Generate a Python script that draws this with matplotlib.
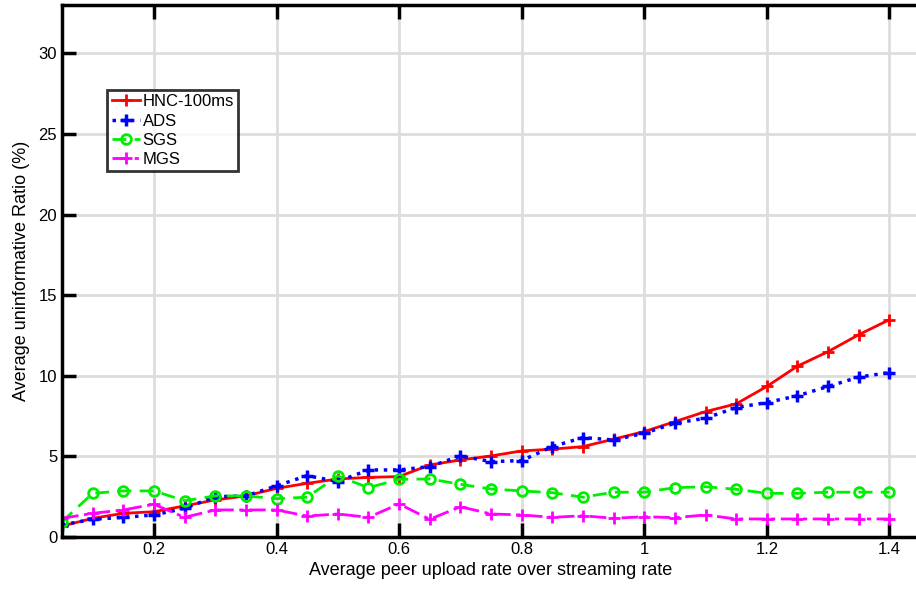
import matplotlib.pyplot as plt

plt.rcParams['font.family'] = ['Liberation Sans', 'DejaVu Sans']

rate = [0.05, 0.1, 0.15, 0.2, 0.25, 0.3, 0.35, 0.4, 0.45, 0.5,
        0.55, 0.6, 0.65, 0.7, 0.75, 0.8, 0.85, 0.9, 0.95, 1.0,
        1.05, 1.1, 1.15, 1.2, 1.25, 1.3, 1.35, 1.4]

hnc = [0.68, 1.16, 1.47, 1.57, 1.93, 2.3, 2.55, 3.02, 3.33, 3.6,
       3.7, 3.75, 4.47, 4.78, 5.03, 5.34, 5.45, 5.61, 6.07, 6.54,
       7.16, 7.78, 8.26, 9.34, 10.6, 11.5, 12.55, 13.48]
ads = [0.75, 1.1, 1.22, 1.37, 1.78, 2.5, 2.55, 3.17, 3.81, 3.44,
       4.16, 4.16, 4.37, 5.03, 4.68, 4.74, 5.61, 6.17, 6.02, 6.44,
       7.06, 7.37, 8.03, 8.34, 8.76, 9.34, 9.92, 10.2]
sgs = [0.95, 2.71, 2.86, 2.86, 2.25, 2.55, 2.55, 2.38, 2.47, 3.79,
       3.06, 3.58, 3.6, 3.27, 2.98, 2.86, 2.75, 2.47, 2.78, 2.78,
       3.06, 3.12, 2.96, 2.71, 2.71, 2.78, 2.78, 2.78]
mgs = [1.16, 1.47, 1.68, 2.03, 1.22, 1.68, 1.68, 1.68, 1.3, 1.43,
       1.22, 2.05, 1.1, 1.88, 1.43, 1.37, 1.22, 1.32, 1.16, 1.26,
       1.2, 1.37, 1.12, 1.12, 1.12, 1.12, 1.12, 1.12]

fig = plt.figure(figsize=(9.16, 5.9), dpi=100)
ax = fig.add_axes([0.0677, 0.0898, 0.9367, 0.9017])

ax.plot(rate, hnc, color='#ff0000', ls='-', lw=2, marker='+', ms=9, mew=2,
        label='HNC-100ms')
ax.plot(rate, ads, color='#0000ff', ls=':', lw=2.5, marker='+', ms=9, mew=2.5,
        label='ADS')
ax.plot(rate, sgs, color='#00ee00', ls=(0, (5, 3)), lw=2, marker='o', ms=7,
        mew=2, mfc='none', label='SGS')
ax.plot(rate, mgs, color='#ff00ff', ls=(0, (6, 2, 1.5, 2)), lw=2, marker='+',
        ms=9, mew=2, label='MGS')

ax.set_xlim(0.05, 1.45)
ax.set_ylim(0, 33)
ax.set_xticks([0.2, 0.4, 0.6, 0.8, 1.0, 1.2, 1.4])
ax.set_xticklabels(['0.2', '0.4', '0.6', '0.8', '1', '1.2', '1.4'])
ax.set_yticks([0, 5, 10, 15, 20, 25, 30])
ax.grid(True, color='#dddddd', lw=2)
ax.set_axisbelow(True)
ax.tick_params(direction='in', length=10, width=2.5, labelsize=12,
               top=True, right=False)
for s in ax.spines.values():
    s.set_linewidth(2.5)

ax.set_xlabel('Average peer upload rate over streaming rate', fontsize=13,
              labelpad=4)
ax.set_ylabel('Average uninformative Ratio (%)', fontsize=13, labelpad=6)

leg = ax.legend(loc='upper left', bbox_to_anchor=(0.053, 0.84), fontsize=12,
                frameon=True, fancybox=False, borderpad=0.25, labelspacing=0.26,
                handlelength=1.7, handletextpad=0.15, borderaxespad=0)
leg.get_frame().set_edgecolor('black')
leg.get_frame().set_linewidth(2)

fig.savefig('out.png', dpi=100)
